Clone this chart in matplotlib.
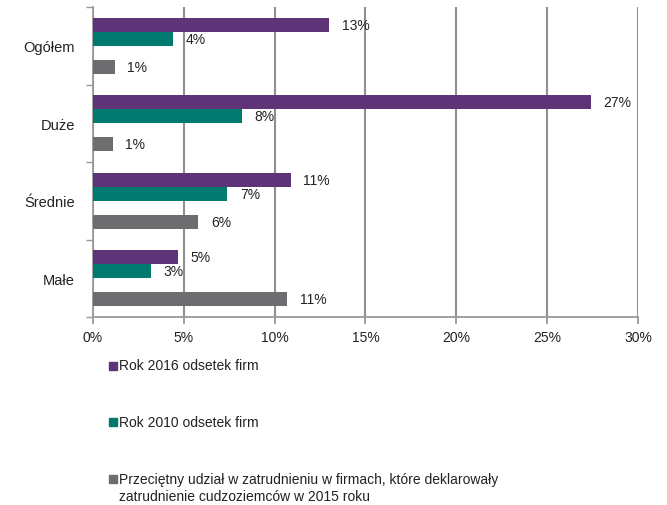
import numpy as np
import matplotlib.pyplot as plt
from matplotlib.patches import Rectangle

plt.rcParams['font.family'] = ['Liberation Sans', 'DejaVu Sans']

categories = ["Ogółem", "Duże", "Średnie", "Małe"]
rok_2016 = [13.0, 27.4, 10.9, 4.7]
rok_2010 = [4.4, 8.2, 7.4, 3.2]
udzial_2015 = [1.2, 1.1, 5.8, 10.7]
labels_2016 = ["13%", "27%", "11%", "5%"]
labels_2010 = ["4%", "8%", "7%", "3%"]
labels_2015 = ["1%", "1%", "6%", "11%"]
legend_labels = [
    "Rok 2016 odsetek firm",
    "Rok 2010 odsetek firm",
    "Przeciętny udział w zatrudnieniu w firmach, które deklarowały\nzatrudnienie cudzoziemców w 2015 roku",
]

c_purple = "#5e3378"
c_teal = "#007a6e"
c_gray = "#6d6d70"
txt = "#222222"

fig = plt.figure(figsize=(6.67, 5.06), dpi=100)
ax = fig.add_axes([0.1394, 0.3715, 0.8171, 0.6125])

y = np.arange(len(categories))
h = 0.18
series = [(rok_2016, labels_2016, c_purple, -0.27),
          (rok_2010, labels_2010, c_teal, -0.09),
          (udzial_2015, labels_2015, c_gray, 0.27)]
for vals, labs, col, off in series:
    bars = ax.barh(y + off, vals, height=h, color=col, zorder=3)
    for b, lab in zip(bars, labs):
        ax.annotate(lab, (b.get_width(), b.get_y() + b.get_height() / 2),
                    xytext=(9, 0), textcoords="offset points",
                    va="center", ha="left", fontsize=10, color=txt)

ax.set_xlim(0, 30)
ax.set_ylim(3.5, -0.5)
ax.set_xticks(np.arange(0, 31, 5))
ax.set_xticklabels([f"{v}%" for v in range(0, 31, 5)])
ax.set_yticks(y)
ax.set_yticklabels(categories)
ax.set_yticks(np.arange(-0.5, 4, 1), minor=True)
ax.tick_params(axis="y", which="major", length=0, pad=13, labelsize=10.5, labelcolor=txt)
ax.tick_params(axis="y", which="minor", length=5, color="#999999", width=1)
ax.tick_params(axis="x", length=5, color="#999999", width=1.3, labelsize=10,
               labelcolor=txt, pad=4)

ax.grid(axis="x", color="#8f8f8f", linewidth=1.5, zorder=0)
for s in ["top", "right"]:
    ax.spines[s].set_visible(False)
for s in ["left", "bottom"]:
    ax.spines[s].set_color("#999999")
    ax.spines[s].set_linewidth(1.3)

# legend below the chart
leg_y = [0.275, 0.164, 0.051]
for lab, col, ly in zip(legend_labels, [c_purple, c_teal, c_gray], leg_y):
    fig.add_artist(Rectangle((0.1635, ly - 0.008), 0.0125, 0.016,
                             transform=fig.transFigure, color=col))
    if "\n" in lab:
        fig.text(0.179, ly + 0.015, lab, fontsize=10, color=txt, va="top", linespacing=1.3)
    else:
        fig.text(0.179, ly + 0.001, lab, fontsize=10, color=txt, va="center")

fig.savefig("out.png", dpi=100)
